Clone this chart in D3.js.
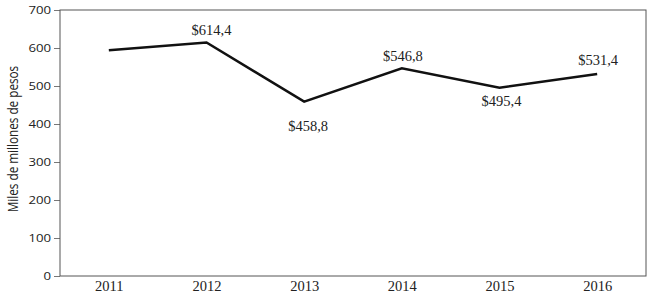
<!DOCTYPE html>
<html>
<head>
<meta charset="utf-8">
<script src="https://cdn.jsdelivr.net/npm/d3@7"></script>
<style>
  body { margin: 0; background: #fff; }
  svg text { fill: #222; }
  .serif { font-family: "Liberation Serif", "DejaVu Serif", serif; }
  .sans { font-family: "Open Sans", "Noto Sans", sans-serif; }
</style>
</head>
<body>
<script>
const years = ['2011', '2012', '2013', '2014', '2015', '2016'];
const values = [594, 614.4, 458.8, 546.8, 495.4, 531.4];
const labels = ['', '$614,4', '$458,8', '$546,8', '$495,4', '$531,4'];
const yTicks = [0, 100, 200, 300, 400, 500, 600, 700];

// label nudges (layout only): dx, dy from the point
const labelDx = [0, 5, 4, 1, 2, 1];
const labelDy = [0, -8, 29, -7, 18, -9];

const width = 650;
const height = 295;
const margin = { top: 10, right: 4, bottom: 19, left: 60 };
const stretch = 1.2;

const svg = d3.select('body').append('svg')
    .attr('width', width)
    .attr('height', height);

const x = d3.scalePoint()
    .domain(years)
    .range([margin.left, width - margin.right])
    .padding(0.5);

const y = d3.scaleLinear()
    .domain([0, 700])
    .range([height - margin.bottom, margin.top]);

// y axis ticks + labels
svg.append('g')
    .attr('transform', `translate(${margin.left},0)`)
    .call(d3.axisLeft(y).tickValues(yTicks).tickSize(6))
    .call(g => g.select('.domain').remove())
    .call(g => g.selectAll('line').attr('stroke', '#777'))
    .call(g => g.selectAll('text')
        .attr('class', 'sans')
        .attr('font-size', 11)
        .attr('x', -9 / stretch)
        .attr('transform', `scale(${stretch},1)`)
        .style('fill', '#222'));

// plot frame
svg.append('rect')
    .attr('x', margin.left)
    .attr('y', margin.top)
    .attr('width', width - margin.left - margin.right)
    .attr('height', height - margin.top - margin.bottom)
    .attr('fill', 'none')
    .attr('stroke', '#555')
    .attr('stroke-width', 1);

// x axis
svg.append('g')
    .attr('transform', `translate(0,${height - margin.bottom})`)
    .call(d3.axisBottom(x).tickSize(0).tickPadding(5))
    .call(g => g.select('.domain').remove())
    .call(g => g.selectAll('text')
        .attr('class', 'serif')
        .attr('font-size', 14.5)
        .style('fill', '#222'));

// y title
svg.append('text')
    .attr('class', 'sans')
    .attr('transform', `translate(18,${(margin.top + height - margin.bottom) / 2 - 4}) rotate(-90) scale(1.02,1.3)`)
    .attr('text-anchor', 'middle')
    .attr('font-size', 11.5)
    .text('Miles de millones de pesos');

const data = years.map((yr, i) => ({
    year: yr, value: values[i], label: labels[i], dx: labelDx[i], dy: labelDy[i]
}));

const line = d3.line()
    .x(d => x(d.year))
    .y(d => y(d.value));

svg.append('path')
    .datum(data)
    .attr('fill', 'none')
    .attr('stroke', '#111')
    .attr('stroke-width', 2.5)
    .attr('stroke-linejoin', 'miter')
    .attr('d', line);

svg.append('g')
    .selectAll('text')
    .data(data.filter(d => d.label))
    .join('text')
    .attr('class', 'serif')
    .attr('x', d => x(d.year) + d.dx)
    .attr('y', d => y(d.value) + d.dy)
    .attr('text-anchor', 'middle')
    .attr('font-size', 14.5)
    .text(d => d.label);
</script>
</body>
</html>
